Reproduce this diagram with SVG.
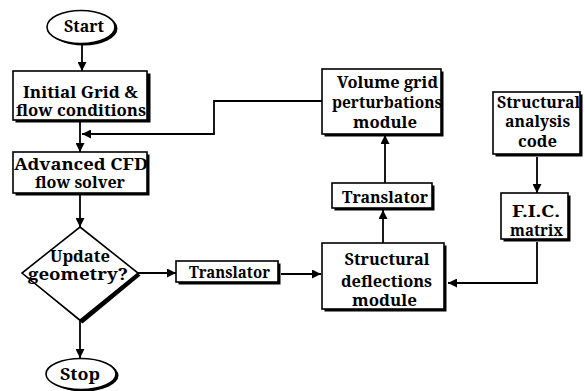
<svg xmlns="http://www.w3.org/2000/svg" width="585" height="391" viewBox="0 0 585 391">
<style>
.box{fill:#fff;stroke:#000;stroke-width:1.6}
.sh{fill:#000}
.t{font-family:'Noto Serif','DejaVu Serif',serif;font-weight:bold;font-size:16.5px;fill:#000;text-anchor:middle}
.c{fill:none;stroke:#000;stroke-width:1.8}
</style>
<defs>
<marker id="ah" viewBox="0 0 10 10" refX="10" refY="5" markerWidth="5" markerHeight="5" orient="auto" markerUnits="strokeWidth">
<path d="M0,0 L10,5 L0,10 z" fill="#000"/>
</marker>
</defs>
<rect width="585" height="391" fill="#fff"/>
<g id="connectors">
<line class="c" x1="82" y1="44" x2="82" y2="71" marker-end="url(#ah)"/>
<line class="c" x1="80" y1="122" x2="80" y2="152" marker-end="url(#ah)"/>
<polyline class="c" points="322,101 214,101 214,134 82,134" marker-end="url(#ah)"/>
<line class="c" x1="80" y1="195" x2="80" y2="227" marker-end="url(#ah)"/>
<line class="c" x1="80" y1="321" x2="80" y2="358" marker-end="url(#ah)"/>
<line class="c" x1="138" y1="273" x2="176" y2="273" marker-end="url(#ah)"/>
<line class="c" x1="281" y1="274" x2="321" y2="274" marker-end="url(#ah)"/>
<line class="c" x1="383" y1="243" x2="383" y2="210" marker-end="url(#ah)"/>
<line class="c" x1="385" y1="183" x2="385" y2="135" marker-end="url(#ah)"/>
<line class="c" x1="537" y1="157" x2="537" y2="193" marker-end="url(#ah)"/>
<polyline class="c" points="537,242 537,283 448,283" marker-end="url(#ah)"/>
</g>
<g id="start">
<ellipse class="sh" cx="83.5" cy="28.5" rx="34" ry="17"/>
<ellipse class="box" cx="81" cy="27" rx="34" ry="16.5"/>
<text class="t" x="84" y="32" textLength="40" lengthAdjust="spacingAndGlyphs">Start</text>
</g>
<g id="initial">
<rect class="sh" x="15.5" y="73.5" width="135" height="49"/>
<rect class="box" x="13" y="71" width="134" height="49"/>
<text class="t" x="80.5" y="98" textLength="115" lengthAdjust="spacingAndGlyphs">Initial Grid &amp;</text>
<text class="t" x="81" y="116" textLength="130" lengthAdjust="spacingAndGlyphs">flow conditions</text>
</g>
<g id="cfd">
<rect class="sh" x="15.5" y="154.5" width="134" height="41"/>
<rect class="box" x="13" y="152" width="134" height="41"/>
<text class="t" x="81" y="170" textLength="134" lengthAdjust="spacingAndGlyphs">Advanced CFD</text>
<text class="t" x="80" y="188" textLength="90" lengthAdjust="spacingAndGlyphs">flow solver</text>
</g>
<g id="decision">
<polygon class="sh" points="82.5,229.5 140.5,275.5 82.5,323.5 24.5,275.5"/>
<polygon class="box" points="80,227 138,273 80,320 22,273"/>
<text class="t" x="80" y="262" textLength="60" lengthAdjust="spacingAndGlyphs">Update</text>
<text class="t" x="78" y="280" textLength="100" lengthAdjust="spacingAndGlyphs">geometry?</text>
</g>
<g id="stop">
<ellipse class="sh" cx="83.5" cy="375.5" rx="35" ry="16"/>
<ellipse class="box" cx="81" cy="374" rx="35" ry="15.5"/>
<text class="t" x="80" y="380" textLength="40" lengthAdjust="spacingAndGlyphs">Stop</text>
</g>
<g id="translator1">
<rect class="sh" x="178.5" y="263.5" width="102" height="21"/>
<rect class="box" x="176" y="261" width="102" height="21"/>
<text class="t" x="229.5" y="278" textLength="81" lengthAdjust="spacingAndGlyphs">Translator</text>
</g>
<g id="structdefl">
<rect class="sh" x="324.5" y="245.5" width="122" height="66"/>
<rect class="box" x="322" y="243" width="122" height="66"/>
<text class="t" x="387" y="265" textLength="85" lengthAdjust="spacingAndGlyphs">Structural</text>
<text class="t" x="386.5" y="287" textLength="91" lengthAdjust="spacingAndGlyphs">deflections</text>
<text class="t" x="384.5" y="306" textLength="65" lengthAdjust="spacingAndGlyphs">module</text>
</g>
<g id="translator2">
<rect class="sh" x="334.5" y="185.5" width="100" height="25"/>
<rect class="box" x="332" y="183" width="100" height="25"/>
<text class="t" x="385" y="203" textLength="86" lengthAdjust="spacingAndGlyphs">Translator</text>
</g>
<g id="volume">
<rect class="sh" x="324.5" y="71.5" width="119" height="65"/>
<rect class="box" x="322" y="69" width="119" height="65"/>
<text class="t" x="387.5" y="88" textLength="101" lengthAdjust="spacingAndGlyphs">Volume grid</text>
<text class="t" x="387" y="108" textLength="110" lengthAdjust="spacingAndGlyphs">perturbations</text>
<text class="t" x="385" y="128" textLength="64" lengthAdjust="spacingAndGlyphs">module</text>
</g>
<g id="structanalysis">
<rect class="sh" x="495.5" y="94.5" width="87" height="62"/>
<rect class="box" x="493" y="92" width="87" height="62"/>
<text class="t" x="538.5" y="108" textLength="83" lengthAdjust="spacingAndGlyphs">Structural</text>
<text class="t" x="537.5" y="127" textLength="65" lengthAdjust="spacingAndGlyphs">analysis</text>
<text class="t" x="537.5" y="147" textLength="39" lengthAdjust="spacingAndGlyphs">code</text>
</g>
<g id="fic">
<rect class="sh" x="503.5" y="195.5" width="67" height="46"/>
<rect class="box" x="501" y="193" width="67" height="46"/>
<text class="t" x="536" y="217" textLength="48" lengthAdjust="spacingAndGlyphs">F.I.C.</text>
<text class="t" x="536.5" y="236" textLength="53" lengthAdjust="spacingAndGlyphs">matrix</text>
</g>
</svg>
